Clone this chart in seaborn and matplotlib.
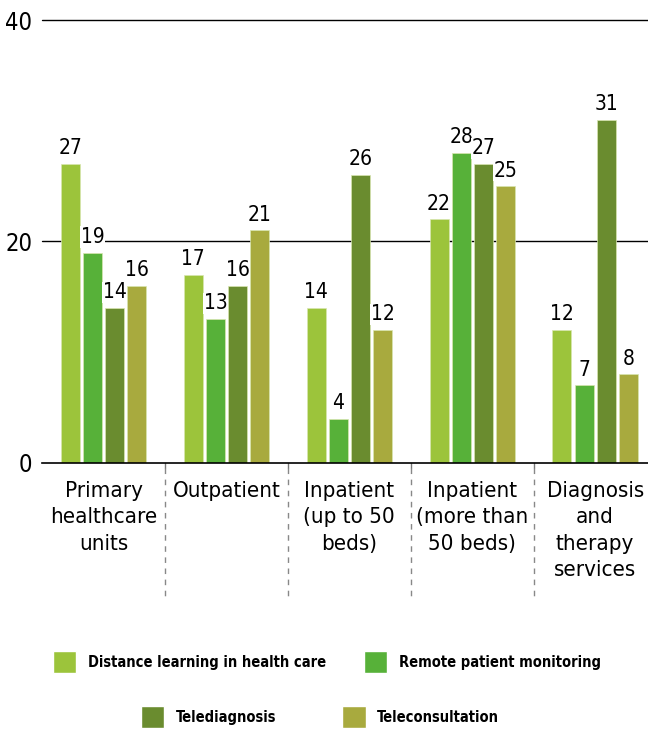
import numpy as np
import pandas as pd
import matplotlib
matplotlib.use('Agg')
import matplotlib.pyplot as plt
import seaborn as sns
from matplotlib.patches import Patch
import matplotlib.transforms as mtransforms

# data
categories = ['Primary\nhealthcare\nunits', 'Outpatient', 'Inpatient\n(up to 50\nbeds)',
              'Inpatient\n(more than\n50 beds)', 'Diagnosis\nand\ntherapy\nservices']
series = ['Distance learning in health care', 'Remote patient monitoring',
          'Telediagnosis', 'Teleconsultation']
distance_learning = [27, 17, 14, 22, 12]
remote_monitoring = [19, 13, 4, 28, 7]
telediagnosis = [14, 16, 26, 27, 31]
teleconsultation = [16, 21, 12, 25, 8]
y_ticks = [0, 20, 40]

colors = ['#9cc43b', '#57b139', '#6a8c2f', '#a8aa3e']

sns.set_style('white')
plt.rcParams['font.family'] = ['DejaVu Sans']
plt.rcParams['font.stretch'] = 'condensed'
plt.rcParams['text.color'] = 'black'
plt.rcParams['xtick.color'] = 'black'
plt.rcParams['ytick.color'] = 'black'

df = pd.DataFrame({
    'category': np.repeat(range(len(categories)), len(series)),
    'series': series * len(categories),
    'value': np.array([distance_learning, remote_monitoring,
                       telediagnosis, teleconsultation]).T.ravel(),
})

fig = plt.figure(figsize=(6.48, 7.29), dpi=100)
ax = fig.add_axes([0.065, 0.365, 0.935, 0.6075])

sns.barplot(data=df, x='category', y='value', hue='series', hue_order=series,
            palette=colors, saturation=1, width=0.72, gap=0.14, ax=ax, legend=False,
            zorder=2, edgecolor='#d8e6b0', linewidth=0.5)

for c in ax.containers:
    ax.bar_label(c, fmt='%d', padding=4, fontsize=15,
                 bbox=dict(facecolor='white', edgecolor='none', pad=0.5))

ax.set_ylim(0, 40)
ax.set_xlim(-0.5, 4.43)
for yv in y_ticks[1:]:
    ax.axhline(yv, color='black', lw=1, zorder=0, clip_on=False)
for s in ['top', 'right', 'left']:
    ax.spines[s].set_visible(False)
ax.spines['bottom'].set_color('black')
ax.spines['bottom'].set_linewidth(1.2)

ax.set_yticks(y_ticks)
ax.set_yticklabels([str(v) for v in y_ticks], fontsize=17, fontweight='light')
ax.tick_params(axis='y', length=0, pad=7)
ax.set_xticks(range(len(categories)))
ax.set_xticklabels(categories, fontsize=16, linespacing=1.4, va='top')
ax.tick_params(axis='x', length=0, pad=13)
ax.set_xlabel('')
ax.set_ylabel('')

# dashed separators between groups
trans = mtransforms.blended_transform_factory(ax.transData, ax.transAxes)
for b in np.arange(0.5, len(categories) - 1, 1.0):
    ax.plot([b, b], [0, -0.012], color='#777777', lw=1, transform=trans, clip_on=False)
    ax.plot([b, b], [-0.012, -0.302], color='#888888', lw=1, ls=(0, (4, 4)),
            transform=trans, clip_on=False)

handles = [Patch(facecolor=c) for c in colors]
leg_kw = dict(frameon=False, ncol=2, prop={'size': 10.5, 'weight': 'bold', 'stretch': 'condensed'},
              handlelength=1.6, handleheight=1.9, handletextpad=0.8)
fig.legend(handles[:2], series[:2], loc='center', bbox_to_anchor=(0.504, 0.092),
           columnspacing=2.6, **leg_kw)
fig.legend(handles[2:], series[2:], loc='center', bbox_to_anchor=(0.494, 0.0165),
           columnspacing=4.5, **leg_kw)

fig.savefig('out.png', dpi=100)
